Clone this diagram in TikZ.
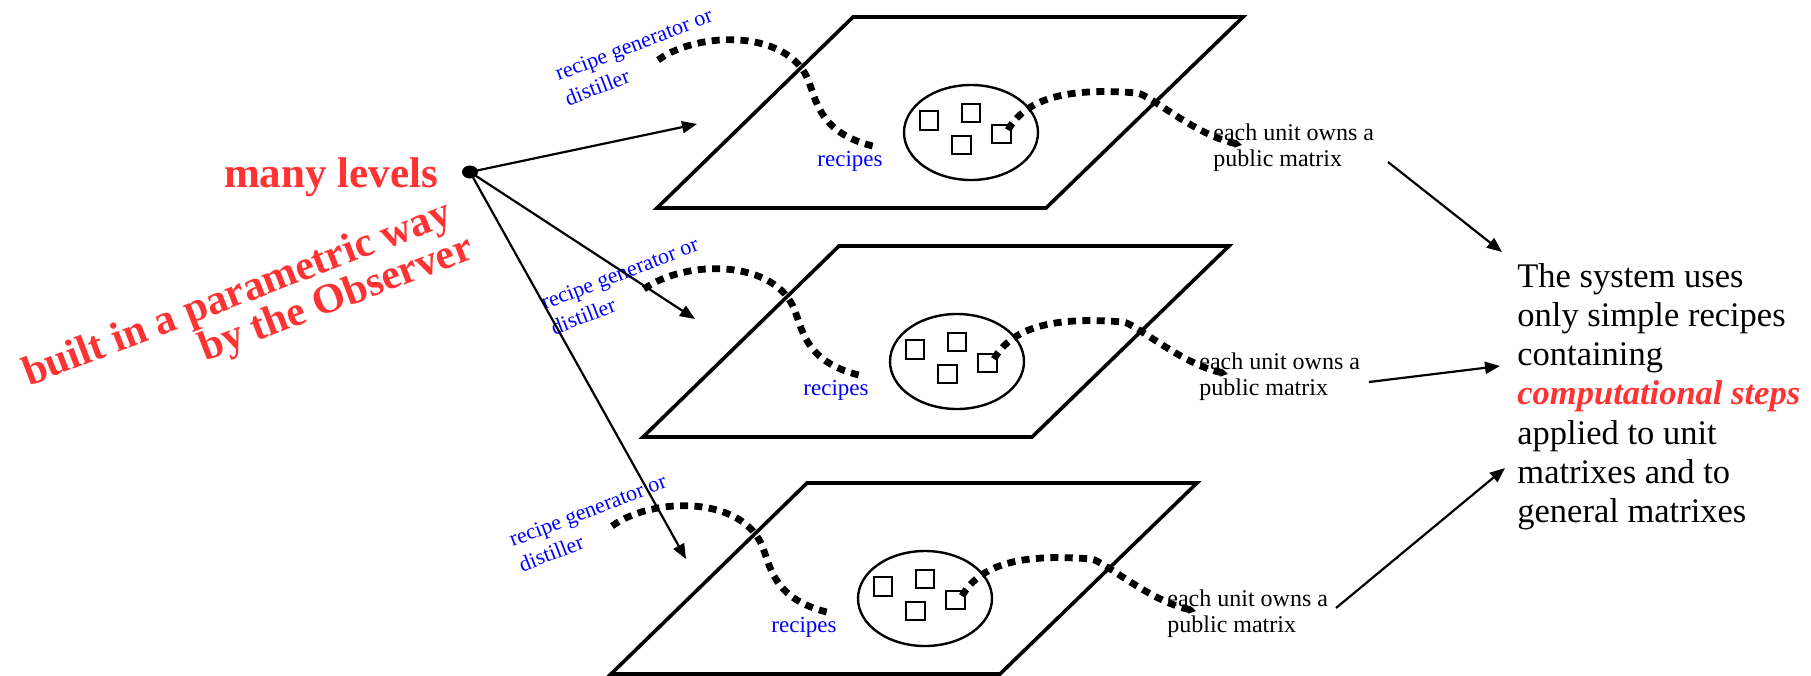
\documentclass[tikz,border=0pt]{standalone}
\usepackage{fontspec}
\setmainfont{Liberation Serif}
\usetikzlibrary{arrows.meta,shapes.geometric}
\definecolor{lred}{RGB}{255,51,51}
\definecolor{lblue}{RGB}{0,0,255}
\begin{document}
\begin{tikzpicture}[x=0.5pt,y=-0.5pt,
 plane/.style={line width=1.8pt},
 orb/.style={draw, ellipse, line width=1.2pt, minimum width=67pt, minimum height=47.5pt, inner sep=0},
 unitbox/.style={draw, line width=1.1pt, minimum size=9.2pt, inner sep=0},
 dotline/.style={line width=3.4pt, dash pattern=on 4pt off 3.2pt},
 arr/.style={line width=1.1pt, -{Triangle[length=7.5pt,width=6pt]}},
 bluelab/.style={text=lblue, font=\fontsize{11}{13.5}\selectfont, inner sep=0},
 blacklab/.style={font=\fontsize{12}{13.3}\selectfont, inner sep=0, align=left, anchor=north west},
]
\path[fill=white] (0,0) rectangle (1811,674);

\foreach \i/\dx/\dy in {1/0/0,2/-14/229,3/-46/466}{
 \begin{scope}[shift={(\dx,\dy)}]
  \draw[plane] (853,17) -- (1243,17) -- (1046,208) -- (657,208) -- cycle;
  \node[orb] (el\i) at (971,132.5) {};
  \node[unitbox] (sa\i) at (929,120.5) {};
  \node[unitbox] (sb\i) at (971,113) {};
  \node[unitbox] (sc\i) at (961.5,145) {};
  \node[unitbox] (sd\i) at (1001.5,134) {};
  \node[bluelab, rotate=21, align=left, anchor=north west] (gen\i) at (553,67) {recipe generator or\\distiller};
  \node[bluelab, font=\fontsize{11.5}{13.5}\selectfont, anchor=base] (rec\i) at (850,166) {recipes};
  \node[blacklab] (own\i) at (1213,123) {each unit owns a\\public matrix};
  \coordinate (as\i) at (658,60);
  \coordinate (am\i) at (809,82);
  \coordinate (ae\i) at (877,147);
  \coordinate (bs\i) at (1008,130);
  \coordinate (bm\i) at (1137,93);
  \coordinate (be\i) at (1242,145);
  \draw[dotline] (as\i) .. controls (700,30) and (790,30) .. (am\i)
                        .. controls (817,104) and (822,135) .. (ae\i);
  \draw[dotline, -{Triangle[length=3.5pt,width=4pt]}] (bs\i) .. controls (1028,95) and (1075,88) .. (bm\i)
                        .. controls (1149,94) and (1195,135) .. (be\i);
 \end{scope}
}

% origin and level arrows
\node[fill, ellipse, inner sep=0, minimum width=8pt, minimum height=6.5pt] (o) at (470,172) {};
\coordinate (t1) at (697,124);
\coordinate (t2) at (695,319);
\coordinate (t3) at (686,559);
\draw[arr] (o.center) -- (t1);
\draw[arr] (o.center) -- (t2);
\draw[arr] (o.center) -- (t3);

% red labels
\node[text=lred, font=\fontsize{21.5}{26}\selectfont\bfseries, anchor=base] (many) at (331,187) {many levels};
\node[text=lred, font=\fontsize{21}{20}\selectfont\bfseries, align=right, rotate=21] (built) at (245,314) {built in a parametric way\\by the Observer\hspace*{-4pt}};

% right text
\node[font=\fontsize{17.25}{19.6}\selectfont, align=left, anchor=north west, inner sep=0] (sys) at (1517,263)
 {The system uses\\only simple recipes\\containing\\{\color{lred}\bfseries\itshape computational steps}\\applied to unit\\matrixes and to\\general matrixes};

\coordinate (r1s) at (1388,162); \coordinate (r1e) at (1502,252);
\coordinate (r2s) at (1369,382); \coordinate (r2e) at (1500,366);
\coordinate (r3s) at (1336,608); \coordinate (r3e) at (1505,468);
\draw[arr] (r1s) -- (r1e);
\draw[arr] (r2s) -- (r2e);
\draw[arr] (r3s) -- (r3e);
\end{tikzpicture}
\end{document}
